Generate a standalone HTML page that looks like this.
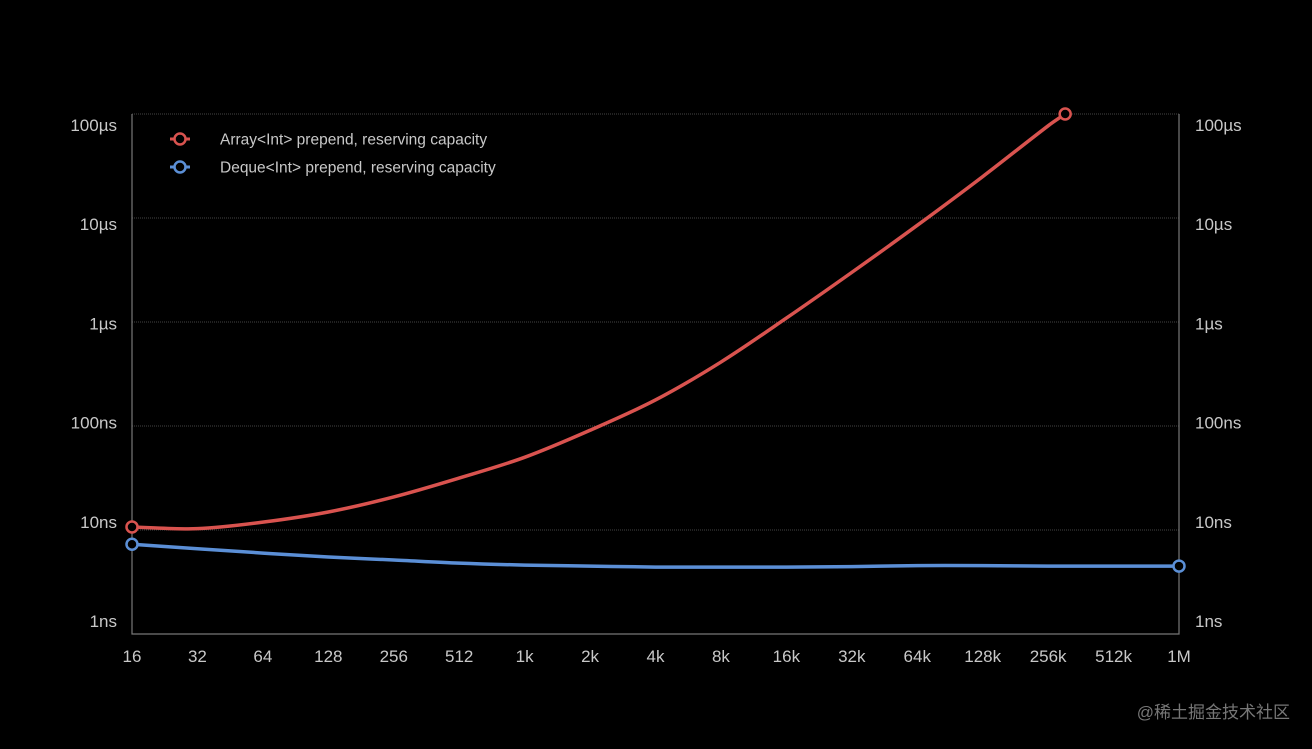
<!DOCTYPE html>
<html><head><meta charset="utf-8"><style>
body{margin:0;background:#000;width:1312px;height:744px;overflow:hidden}
svg text{font-family:"Liberation Sans","Noto Sans CJK SC",sans-serif}
</style></head><body>
<svg id="c" width="1312" height="744"></svg>
<script>
const xLabels=["16","32","64","128","256","512","1k","2k","4k","8k","16k","32k","64k","128k","256k","512k","1M"];
const yLabels=["1ns","10ns","100ns","1µs","10µs","100µs"];
const arrayX=[16,32,64,128,256,512,1024,2048,4096,8192,16384,32768,65536,131072,262144,314000];
const arrayY=[10.7,10.3,11.9,14.9,20.8,31.6,50,91,178,412,1090,3000,8500,25000,77000,100000];
const dequeX=[16,32,64,128,256,512,1024,2048,4096,8192,16384,32768,65536,131072,262144,524288,1048576];
const dequeY=[7.3,6.6,6.0,5.5,5.15,4.8,4.6,4.5,4.4,4.4,4.4,4.45,4.55,4.55,4.5,4.5,4.5];
const NS="http://www.w3.org/2000/svg";
const svg=document.getElementById('c');
const X0=132,X1=1179,Y0=634,DEC=104;
function sx(v){return X0+Math.log2(v/16)*(X1-X0)/16;}
function sy(ns){return Y0-Math.log10(ns)*DEC;}
function el(t,a,p){const e=document.createElementNS(NS,t);for(const k in a)e.setAttribute(k,a[k]);(p||svg).appendChild(e);return e;}
yLabels.forEach((l,i)=>{
  const y=sy(Math.pow(10,i));
  if(i>0){const g=el('line',{x1:X0,x2:X1,y1:y,y2:y,stroke:'#444','stroke-dasharray':'1 1','stroke-width':1});
  
  }
  const ty=621-i*99.2+6;
  const t1=el('text',{x:117,y:ty,'text-anchor':'end',fill:'#c8c8c8','font-size':17});t1.textContent=l;
  
  
  const t2=el('text',{x:1195,y:ty,fill:'#c8c8c8','font-size':17});t2.textContent=l;
  
  
});
const ax=el('path',{d:`M${X0} ${sy(1e5)}V${Y0}H${X1}V${sy(1e5)}`,stroke:'#777',fill:'none','stroke-width':1.2});


xLabels.forEach((l,i)=>{
  const t=el('text',{x:sx(16*Math.pow(2,i)),y:662,'text-anchor':'middle',fill:'#c8c8c8','font-size':17});t.textContent=l;
  
  
});
function curve(xs,ys){
  const p=xs.map((x,i)=>[sx(x),sy(ys[i])]);
  let d=`M${p[0][0]} ${p[0][1]}`;
  for(let i=0;i<p.length-1;i++){
    const a=p[i-1]||p[i],b=p[i],c=p[i+1],e=p[i+2]||c;
    const k1=(c[0]-b[0])/(c[0]-a[0]||1)/3, k2=(c[0]-b[0])/(e[0]-b[0]||1)/3;
    d+=`C${b[0]+(c[0]-a[0])*k1} ${b[1]+(c[1]-a[1])*k1} ${c[0]-(e[0]-b[0])*k2} ${c[1]-(e[1]-b[1])*k2} ${c[0]} ${c[1]}`;
  }
  return [d,p];
}
[[arrayX,arrayY,'#d9534f','array-series'],[dequeX,dequeY,'#5b8fd6','deque-series']].forEach(s=>{
  const [d,p]=curve(s[0],s[1]);
  const ln=el('path',{d,stroke:s[2],'stroke-width':3.5,fill:'none'});
  
  
  [p[0],p[p.length-1]].forEach(q=>{
    const c=el('circle',{cx:q[0],cy:q[1],r:5.5,fill:'#000',stroke:s[2],'stroke-width':2.5});
    
    
  });
});
[['#d9534f','Array<Int> prepend, reserving capacity',139],['#5b8fd6','Deque<Int> prepend, reserving capacity',167]].forEach(l=>{
  const g=el('g',{});
  
  
  el('line',{x1:170,x2:190,y1:l[2],y2:l[2],stroke:l[0],'stroke-width':3},g);
  el('circle',{cx:180,cy:l[2],r:5.5,fill:'#000',stroke:l[0],'stroke-width':2.5},g);
  const t=el('text',{x:220,y:l[2]+5.5,fill:'#c8c8c8','font-size':15.5},g);t.textContent=l[1];
});
const w=el('text',{x:1290,y:718,'text-anchor':'end',fill:'#777','font-size':17});w.textContent='@稀土掘金技术社区';


</script></body></html>
